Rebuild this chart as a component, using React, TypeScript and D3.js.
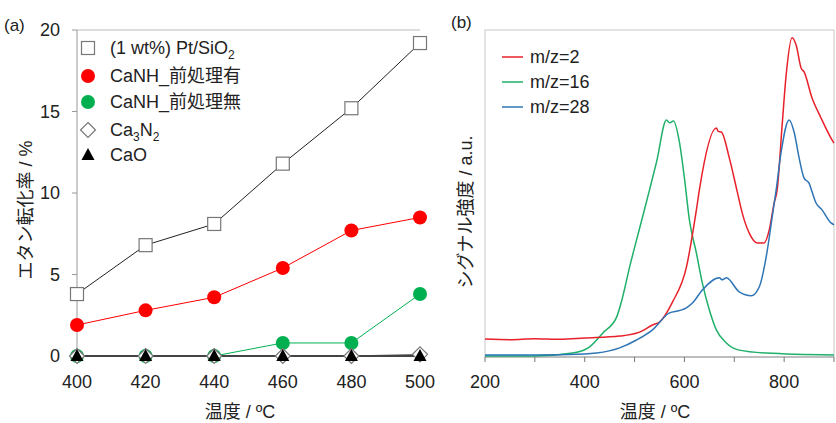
import React from "react";
import { scaleLinear, line, curveMonotoneX } from "d3";

// panel (a)
const tempsA = [400, 420, 440, 460, 480, 500];
const ptSiO2 = [3.8, 6.8, 8.1, 11.8, 15.2, 19.2];
const canhWith = [1.9, 2.8, 3.6, 5.4, 7.7, 8.5];
const canhWithout = [0, 0, 0, 0.8, 0.8, 3.8];
const ca3n2 = [0, 0, 0, 0, 0, 0.1];
const caO = [0, 0, 0, 0, 0, 0];
const yTicksA = [0, 5, 10, 15, 20];

// panel (b): [temperature, signal]
const mz2: [number, number][] = [
  [200, 5.5], [250, 5.3], [300, 5.6], [350, 5.4], [400, 5.8], [470, 6.4], [510, 7.6],
  [536, 9.8], [550, 10.7], [576, 16.8], [604, 27.5], [624, 45.0], [630, 51.1],
  [664, 70.0], [668, 69.0], [674, 68.8], [690, 60.9], [706, 50.5], [716, 44.0],
  [730, 37.9], [746, 34.9], [760, 34.9], [770, 38.8], [780, 47.1], [786, 51.1],
  [796, 70.9], [804, 86.2], [816, 97.6], [824, 95.4], [834, 88.4], [840, 87.2],
  [856, 79.2], [874, 73.1], [896, 66.4], [900, 65.4],
];
const mz16: [number, number][] = [
  [200, 0.3], [300, 0.3], [376, 1.2], [410, 3.1], [436, 7.3], [464, 12.2],
  [476, 18.3], [490, 27.5], [504, 35.8], [516, 42.8], [530, 51.1], [544, 59.6],
  [564, 72.5], [570, 71.6], [578, 72.2], [590, 65.7], [600, 54.7], [610, 41.9],
  [624, 31.8], [636, 22.6], [650, 14.4], [664, 8.3], [684, 4.3], [710, 2.1],
  [764, 1.2], [900, 0.6],
];
const mz28: [number, number][] = [
  [200, 0.6], [300, 0.6], [400, 0.9], [424, 1.2], [470, 2.8], [504, 5.2],
  [536, 8.3], [570, 13.5], [590, 14.2], [604, 15.0], [616, 16.5], [636, 20.5],
  [670, 24.2], [676, 23.6], [684, 24.2], [710, 19.9], [734, 18.7], [750, 21.4],
  [764, 30.6], [776, 42.8], [784, 51.1], [794, 62.7], [810, 72.5], [820, 68.8],
  [830, 60.9], [840, 54.7], [850, 53.2], [856, 50.5], [864, 47.1], [876, 45.0],
  [894, 41.0], [900, 40.4],
];
const xTicksB = [200, 400, 600, 800];
const xMinorB = [300, 500, 700, 900];

const FONT = "'Liberation Sans', Arial, 'Noto Sans CJK JP', sans-serif";

function App() {
  const width = 836;
  const height = 423;

  const xA = scaleLinear().domain([400, 500]).range([77, 420]);
  const yA = scaleLinear().domain([0, 20]).range([356, 30]);

  const xB = scaleLinear().domain([200, 900]).range([485, 834]);
  const yB = scaleLinear().domain([0, 100]).range([357, 30]);

  const lineA = (vals: number[]) =>
    line<number>()
      .x((_, i) => xA(tempsA[i]))
      .y((d) => yA(d))(vals) || "";

  const lineB = line<[number, number]>()
    .x((d) => xB(d[0]))
    .y((d) => yB(d[1]))
    .curve(curveMonotoneX);

  const red = "#ff0000";
  const green = "#00b050";
  const square = (cx: number, cy: number, k: string) => (
    <rect key={k} x={cx - 6.5} y={cy - 6.5} width={13} height={13} fill="#fff" stroke="#777" strokeWidth={1.2} />
  );
  const diamond = (cx: number, cy: number, k: string) => (
    <path key={k} d={`M${cx},${cy - 7.5}L${cx + 7.5},${cy}L${cx},${cy + 7.5}L${cx - 7.5},${cy}Z`} fill="#fff" stroke="#777" strokeWidth={1.2} />
  );
  const triangle = (cx: number, cy: number, k: string) => (
    <path key={k} d={`M${cx},${cy - 7}L${cx + 6.5},${cy + 5}L${cx - 6.5},${cy + 5}Z`} fill="#000" />
  );

  const legA = [
    { y: 48, label: "pt" },
    { y: 76, label: "CaNH_前処理有" },
    { y: 102, label: "CaNH_前処理無" },
    { y: 130, label: "ca3n2" },
    { y: 155, label: "CaO" },
  ];

  const legB = [
    { y: 57, label: "m/z=2", color: "#e8202a" },
    { y: 82, label: "m/z=16", color: "#1fb06a" },
    { y: 107, label: "m/z=28", color: "#2e75b6" },
  ];

  return (
    <svg width={width} height={height} style={{ position: "absolute", left: 0, top: 0 }} fontFamily={FONT}>
      <rect width={width} height={height} fill="#fff" />

      {/* ---------- panel (a) ---------- */}
      <text x={4} y={31} fontSize={17} fill="#222">(a)</text>
      <line x1={77} x2={420} y1={30} y2={30} stroke="#bbb" />
      <line x1={77} x2={77} y1={30} y2={356} stroke="#999" />
      {yTicksA.map((d) => (
        <g key={d}>
          <line x1={72} x2={77} y1={yA(d)} y2={yA(d)} stroke="#999" />
          <text x={60} y={yA(d)} dy="0.36em" textAnchor="end" fontSize={18} fill="#222">{d}</text>
        </g>
      ))}
      {tempsA.map((t) => (
        <text key={t} x={xA(t)} y={388} textAnchor="middle" fontSize={18} fill="#222">{t}</text>
      ))}
      <text x={240} y={418} textAnchor="middle" fontSize={18} fill="#222">温度 / ºC</text>
      <text transform="translate(32,210) rotate(-90)" textAnchor="middle" fontSize={18} fill="#222">エタン転化率 / %</text>

      <path d={lineA(ptSiO2)} fill="none" stroke="#222" strokeWidth={1} />
      <path d={lineA(canhWith)} fill="none" stroke={red} strokeWidth={1} />
      <path d={lineA(canhWithout)} fill="none" stroke={green} strokeWidth={1} />
      <path d={lineA(ca3n2)} fill="none" stroke="#666" strokeWidth={1} />
      <path d={lineA(caO)} fill="none" stroke="#444" strokeWidth={2} />

      {ptSiO2.map((d, i) => square(xA(tempsA[i]), yA(d), "s" + i))}
      {canhWith.map((d, i) => (
        <circle key={"r" + i} cx={xA(tempsA[i])} cy={yA(d)} r={7} fill={red} />
      ))}
      {canhWithout.map((d, i) => (
        <circle key={"g" + i} cx={xA(tempsA[i])} cy={yA(d)} r={7} fill={green} />
      ))}
      {ca3n2.map((d, i) => diamond(xA(tempsA[i]), yA(d), "d" + i))}
      {caO.map((d, i) => triangle(xA(tempsA[i]), yA(d), "t" + i))}

      {legA.map((l, i) => (
        <g key={l.label}>
          {i === 0 && square(88, l.y, "ls")}
          {i === 1 && <circle cx={88} cy={l.y} r={7} fill={red} />}
          {i === 2 && <circle cx={88} cy={l.y} r={7} fill={green} />}
          {i === 3 && diamond(88, l.y, "ld")}
          {i === 4 && triangle(88, l.y, "lt")}
          <text x={110} y={l.y} dy="0.36em" fontSize={18} fill="#222">
            {l.label === "pt" ? (
              <>
                (1 wt%) Pt/SiO<tspan fontSize={12} dy={5}>2</tspan>
              </>
            ) : l.label === "ca3n2" ? (
              <>
                Ca<tspan fontSize={12} dy={5}>3</tspan>
                <tspan dy={-5}>N</tspan>
                <tspan fontSize={12} dy={5}>2</tspan>
              </>
            ) : (
              l.label
            )}
          </text>
        </g>
      ))}

      {/* ---------- panel (b) ---------- */}
      <text x={451} y={28} fontSize={17} fill="#222">(b)</text>
      <rect x={485} y={30} width={349} height={327} fill="none" stroke="#c8c8c8" />
      <line x1={485} x2={834} y1={357} y2={357} stroke="#999" />
      {[...xTicksB, ...xMinorB].map((t) => (
        <line key={t} x1={xB(t)} x2={xB(t)} y1={357} y2={362} stroke="#777" />
      ))}
      {xTicksB.map((t) => (
        <text key={t} x={xB(t)} y={388} textAnchor="middle" fontSize={18} fill="#222">{t}</text>
      ))}
      <text x={655} y={418} textAnchor="middle" fontSize={18} fill="#222">温度 / ºC</text>
      <text transform="translate(472,212) rotate(-90)" textAnchor="middle" fontSize={18} fill="#222">シグナル強度 / a.u.</text>

      <path d={lineB(mz16) || ""} fill="none" stroke="#1fb06a" strokeWidth={1.5} />
      <path d={lineB(mz2) || ""} fill="none" stroke="#e8202a" strokeWidth={1.5} />
      <path d={lineB(mz28) || ""} fill="none" stroke="#2e75b6" strokeWidth={1.5} />

      {legB.map((l) => (
        <g key={l.label}>
          <line x1={502} x2={523} y1={l.y} y2={l.y} stroke={l.color} strokeWidth={1.5} />
          <text x={530} y={l.y} dy="0.36em" fontSize={18} fill="#222">{l.label}</text>
        </g>
      ))}
    </svg>
  );
}

export default App;
